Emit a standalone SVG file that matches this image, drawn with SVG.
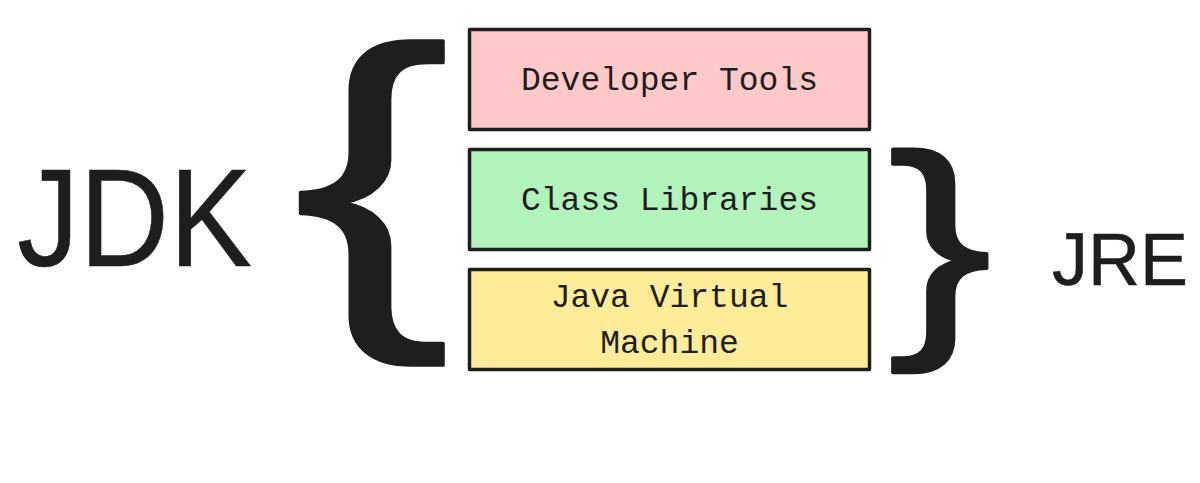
<svg xmlns="http://www.w3.org/2000/svg" width="1200" height="483" viewBox="0 0 1200 483">
<style>
.box{stroke:#1e1e1e;stroke-width:3.5;stroke-linejoin:round}
.lbl{font-family:"Liberation Mono","DejaVu Sans Mono",monospace;font-size:33px;fill:#1e1e1e;text-anchor:middle}
.big{font-family:"Liberation Sans","DejaVu Sans",sans-serif;fill:#1e1e1e;stroke:#1e1e1e;stroke-linejoin:round}
.brace{font-family:"Liberation Sans","DejaVu Sans",sans-serif;fill:#1e1e1e;text-anchor:middle;stroke:#1e1e1e;stroke-linejoin:round}
</style>
<rect width="1200" height="483" fill="#ffffff"/>
<g id="jdk-label">
<text class="big" x="17" y="266" font-size="140" textLength="235" lengthAdjust="spacingAndGlyphs" stroke-width="0.5">JDK</text>
</g>
<g id="jdk-brace">
<text class="brace" x="0" y="0" font-size="348" stroke-width="3" transform="translate(372,293) scale(1.36,1)">{</text>
</g>
<g id="developer-tools">
<rect class="box" x="469.5" y="29.5" width="400" height="100" fill="#ffc9c9"/>
<text class="lbl" x="669.5" y="90">Developer Tools</text>
</g>
<g id="class-libraries">
<rect class="box" x="469.5" y="149.5" width="400" height="100" fill="#b2f2bb"/>
<text class="lbl" x="669.5" y="210">Class Libraries</text>
</g>
<g id="jvm">
<rect class="box" x="469.5" y="269.5" width="400" height="100" fill="#ffec99"/>
<text class="lbl" x="669.5" y="307">Java Virtual</text>
<text class="lbl" x="669.5" y="353">Machine</text>
</g>
<g id="jre-brace">
<text class="brace" x="0" y="0" font-size="240" stroke-width="3" transform="translate(940,323) scale(1.3,1)">}</text>
</g>
<g id="jre-label">
<text class="big" x="1052" y="285" font-size="74" textLength="136" lengthAdjust="spacingAndGlyphs" stroke-width="0.5">JRE</text>
</g>
<g id="connectors"></g>
</svg>
